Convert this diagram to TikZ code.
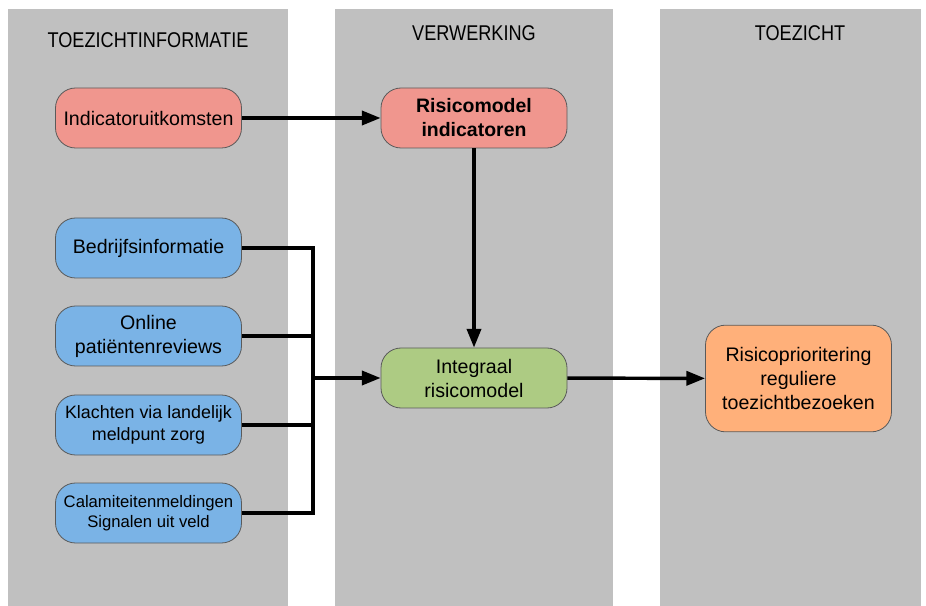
\documentclass[tikz,border=0pt]{standalone}
\usepackage{fontspec}
\setmainfont{Liberation Sans}
\usetikzlibrary{arrows.meta}
\definecolor{colgrey}{HTML}{C0C0C0}
\definecolor{pinkfill}{HTML}{F0968E}
\definecolor{bluefill}{HTML}{7AB3E6}
\definecolor{greenfill}{HTML}{ADCB83}
\definecolor{orangefill}{HTML}{FFB07A}
\definecolor{edgegrey}{HTML}{5A5A5A}
\newcommand{\hdrtext}[1]{\scalebox{0.85}[1]{#1}}
\tikzset{
  column/.style={fill=colgrey, draw=none},
  header/.style={font=\fontsize{16pt}{18pt}\selectfont, text=black},
  box/.style={draw=edgegrey, line width=0.6pt, rounded corners=15pt,
    minimum width=139.5pt, minimum height=45pt, align=center, inner sep=2pt,
    font=\fontsize{14.7pt}{18pt}\selectfont},
  pinkbox/.style={box, fill=pinkfill},
  bluebox/.style={box, fill=bluefill},
  greenbox/.style={box, fill=greenfill},
  orangebox/.style={box, fill=orangefill, minimum height=80pt},
  conn/.style={line width=2.6pt, draw=black},
  arr/.style={conn, -{Triangle[length=14pt,width=10.5pt]}},
}
\begin{document}
\begin{tikzpicture}[x=0.75pt,y=-0.75pt]
\useasboundingbox (0,0) rectangle (926,606);
\fill[white] (0,0) rectangle (926,606);
% columns
\fill[column] (8,9) rectangle (288,606);
\fill[column] (335,9) rectangle (613,606);
\fill[column] (660,9) rectangle (921,606);
% headers
\node[header] (h1) at (148,40) {\hdrtext{TOEZICHTINFORMATIE}};
\node[header] (h2) at (474,33) {\hdrtext{VERWERKING}};
\node[header] (h3) at (800,33) {\hdrtext{TOEZICHT}};
% nodes
\node[pinkbox] (ind) at (148.5,118) {Indicatoruitkomsten};
\node[pinkbox, font=\fontsize{14.6pt}{18pt}\selectfont\bfseries] (rmi) at (474,118) {Risicomodel\\indicatoren};
\node[bluebox] (bed) at (148.5,248) {Bedrijfsinformatie};
\node[bluebox] (onl) at (148.5,336) {Online\\patiëntenreviews};
\node[bluebox, font=\fontsize{13.4pt}{17pt}\selectfont] (kla) at (148.5,425) {Klachten via landelijk\\meldpunt zorg};
\node[bluebox, font=\fontsize{12.5pt}{15pt}\selectfont] (cal) at (148.5,513) {Calamiteitenmeldingen\\Signalen uit veld};
\node[greenbox] (int) at (474,378) {Integraal\\risicomodel};
\node[orangebox] (ris) at (798.5,378.5) {Risicoprioritering\\reguliere\\toezichtbezoeken};
% bus
\coordinate (bt) at (313,248);
\coordinate (bb) at (313,513);
\coordinate (bm) at (313,378);
% connectors
\draw[arr] (ind) -- (rmi);
\draw[arr] (rmi) -- (int);
\draw[arr] (int) -- (ris);
\draw[conn] (bed.east) -- (bt);
\draw[conn] (onl.east) -- (onl.east -| bm);
\draw[conn] (kla.east) -- (kla.east -| bm);
\draw[conn] (cal.east) -- (bb);
\draw[conn, line cap=rect] (bt) -- (bb);
\draw[arr] (bm) -- (int.west);
\end{tikzpicture}
\end{document}
